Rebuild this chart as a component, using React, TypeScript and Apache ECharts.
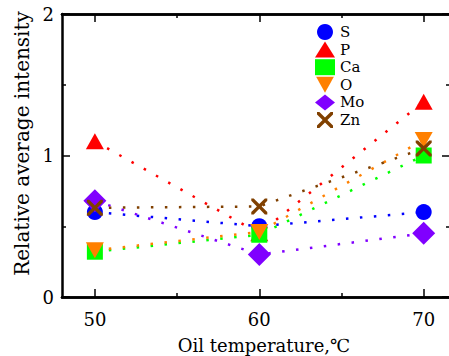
import React, { useEffect, useRef } from 'react';
import * as echarts from 'echarts';

const temperatures = [50, 60, 70];
const elementNames = ['S', 'P', 'Ca', 'O', 'Mo', 'Zn'];
const sValues = [0.6, 0.5, 0.6];
const pValues = [1.1, 0.45, 1.38];
const caValues = [0.32, 0.44, 1.0];
const oValues = [0.33, 0.46, 1.11];
const moValues = [0.68, 0.3, 0.45];
const znValues = [0.63, 0.64, 1.05];
const xMajorTicks = [50, 60, 70];
const xMinorTicks = [55, 65];

const FONT = '"DejaVu Serif"';
const DOWN_TRI = 'path://M0,0 L20,0 L10,18 Z';
const CROSS =
  'path://M0,0 L3,0 L10,7 L17,0 L20,0 L20,3 L13,10 L20,17 L20,20 L17,20 L10,13 L3,20 L0,20 L0,17 L7,10 L0,3 Z';

const seriesDefs = [
  { name: elementNames[0], values: sValues, color: '#0000ff', symbol: 'circle', size: 16 },
  { name: elementNames[1], values: pValues, color: '#ff0000', symbol: 'triangle', size: [18, 16] },
  { name: elementNames[2], values: caValues, color: '#00ff00', symbol: 'rect', size: 16 },
  { name: elementNames[3], values: oValues, color: '#ff8000', symbol: DOWN_TRI, size: [18, 16] },
  { name: elementNames[4], values: moValues, color: '#8000ff', symbol: 'diamond', size: [23, 23] },
  { name: elementNames[5], values: znValues, color: '#804000', symbol: CROSS, size: 16 },
];

export default function App() {
  const ref = useRef<HTMLDivElement>(null);
  useEffect(() => {
    if (!ref.current) return;
    const chart = echarts.init(ref.current, null, { renderer: 'svg' });
    const axisLine = { show: true, onZero: false, lineStyle: { color: '#000', width: 2.5 } };
    const xBase = {
      type: 'value',
      min: 48,
      max: 71.6,
      splitLine: { show: false },
      axisLine,
    };
    const majorTick = {
      show: true,
      inside: true,
      length: 8,
      customValues: xMajorTicks,
      lineStyle: { color: '#000', width: 1.5 },
    };
    const minorTick = {
      show: true,
      inside: true,
      length: 4,
      customValues: xMinorTicks,
      lineStyle: { color: '#000', width: 1.5 },
    };
    const yBase = {
      type: 'value',
      min: 0,
      max: 2,
      interval: 1,
      splitLine: { show: false },
      axisLine,
      axisTick: { show: true, inside: true, length: 8, lineStyle: { color: '#000', width: 1.5 } },
      minorTick: { show: true, splitNumber: 2, length: 4, lineStyle: { color: '#000', width: 1.5 } },
    };
    chart.setOption({
      animation: false,
      textStyle: { fontFamily: FONT },
      grid: {
        left: 62,
        top: 14,
        width: 388,
        height: 283,
        containLabel: false,
        outerBoundsMode: 'none',
      },
      legend: {
        orient: 'vertical',
        left: 310,
        top: 19,
        itemWidth: 20,
        itemHeight: 16,
        itemGap: 1.6,
        textStyle: { fontFamily: FONT, fontSize: 15, color: '#000', lineHeight: 16 },
        data: seriesDefs.map((s) => ({ name: s.name, icon: s.symbol })),
      },
      xAxis: [
        {
          ...xBase,
          position: 'bottom',
          axisTick: majorTick,
          axisLabel: { customValues: xMajorTicks, fontSize: 18, fontFamily: FONT, color: '#000', margin: 13 },
          name: 'Oil temperature,℃',
          nameLocation: 'middle',
          nameGap: 39,
          nameTextStyle: { fontSize: 18, fontFamily: FONT, color: '#000', padding: [0, 0, 0, 16] },
        },
        { ...xBase, position: 'bottom', axisTick: minorTick, axisLabel: { show: false } },
        { ...xBase, position: 'top', axisTick: majorTick, axisLabel: { show: false } },
        { ...xBase, position: 'top', axisTick: minorTick, axisLabel: { show: false } },
      ],
      yAxis: [
        {
          ...yBase,
          position: 'left',
          axisLabel: { fontSize: 18, fontFamily: FONT, color: '#000', margin: 8 },
          name: 'Relative average intensity',
          nameLocation: 'middle',
          nameGap: 30,
          nameTextStyle: { fontSize: 20, fontFamily: FONT, color: '#000', padding: [0, 0, 0, 24] },
        },
        { ...yBase, position: 'right', axisLabel: { show: false } },
      ],
      series: seriesDefs.map((s) => ({
        name: s.name,
        type: 'line',
        xAxisIndex: 0,
        yAxisIndex: 0,
        smooth: false,
        symbol: s.symbol,
        symbolSize: s.size,
        showSymbol: true,
        itemStyle: { color: s.color, borderWidth: 0 },
        lineStyle: { color: s.color, width: 2.5, type: [2.5, 11.5], cap: 'butt' },
        data: temperatures.map((t, i) => [t, s.values[i]]),
      })),
    });
    return () => chart.dispose();
  }, []);
  return (
    <div
      ref={ref}
      style={{ position: 'fixed', left: 0, top: 0, width: 449, height: 356, background: '#fff' }}
    />
  );
}
